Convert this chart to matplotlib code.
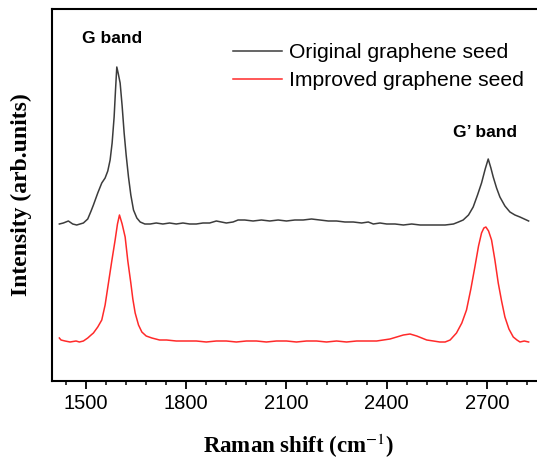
import matplotlib
matplotlib.use("Agg")
import matplotlib.pyplot as plt
from matplotlib.ticker import MultipleLocator

# Raman spectra (arb. units)
orig_x = [1420, 1432, 1447, 1460, 1472, 1482, 1492, 1505, 1515, 1522, 1535, 1547, 1557, 1565,
          1572, 1578, 1584, 1588, 1592, 1596, 1602, 1608, 1614, 1620, 1627, 1634, 1642, 1652,
          1662, 1676, 1692, 1710, 1730, 1750, 1770, 1790, 1810, 1830, 1850, 1870, 1890, 1905,
          1920, 1940, 1955, 1975, 2000, 2025, 2050, 2075, 2100, 2125, 2150, 2175, 2200, 2225,
          2250, 2275, 2300, 2325, 2345, 2360, 2380, 2400, 2425, 2450, 2475, 2500, 2525, 2550,
          2575, 2600, 2615, 2629, 2645, 2659, 2672, 2684, 2695, 2704, 2712, 2719, 2729, 2739,
          2754, 2769, 2784, 2799, 2812, 2825]
orig_y = [157, 158, 160, 157, 156, 157, 158, 162, 170, 176, 188, 198, 203, 210,
          221, 238, 264, 290, 314, 308, 298, 275, 248, 226, 204, 186, 171, 163,
          159, 157, 157, 158, 157, 158, 157, 158, 157, 157, 158, 158, 160, 159,
          158, 159, 161, 161, 160, 161, 160, 161, 160, 161, 161, 162, 161, 160,
          160, 159, 159, 158, 159, 157, 158, 157, 157, 156, 157, 156, 156, 156,
          156, 157, 159, 161, 166, 174, 186, 198, 212, 222, 213, 204, 193, 184,
          175, 169, 166, 164, 162, 160]

impr_x = [1420, 1425, 1437, 1452, 1470, 1480, 1492, 1505, 1515, 1522, 1535, 1547, 1557, 1567,
          1577, 1587, 1594, 1600, 1608, 1617, 1625, 1634, 1640, 1647, 1657, 1667, 1680, 1697,
          1720, 1741, 1770, 1800, 1830, 1860, 1890, 1920, 1950, 1980, 2010, 2040, 2070, 2100,
          2130, 2160, 2190, 2220, 2250, 2280, 2310, 2340, 2370, 2390, 2410, 2430, 2450, 2470,
          2490, 2505, 2520, 2540, 2559, 2575, 2590, 2609, 2625, 2639, 2652, 2664, 2675, 2684,
          2691, 2697, 2705, 2714, 2724, 2734, 2744, 2754, 2766, 2779, 2790, 2799, 2812, 2825]
impr_y = [43, 41, 40, 39, 40, 39, 40, 43, 46, 48, 54, 61, 76, 98,
          120, 141, 157, 166, 157, 144, 120, 98, 82, 68, 56, 49, 45, 43,
          41, 41, 40, 40, 40, 39, 40, 40, 39, 40, 40, 39, 40, 40,
          39, 40, 40, 39, 40, 39, 40, 40, 40, 41, 42, 44, 46, 47,
          45, 43, 41, 40, 39, 39, 41, 48, 58, 71, 92, 114, 135, 148,
          153, 154, 150, 141, 121, 98, 80, 64, 52, 44, 41, 39, 40, 39]

major_ticks = [1500, 1800, 2100, 2400, 2700]

sans = "Liberation Sans"
serif = "Liberation Serif"
plt.rcParams["mathtext.fontset"] = "stix"

fig = plt.figure(figsize=(5.37, 4.59), dpi=100)
ax = fig.add_axes([52 / 537, 78 / 459, 494 / 537, 372 / 459])

ax.plot(orig_x, orig_y, color="#3c3c3c", lw=1.1, label="Original graphene seed")
ax.plot(impr_x, impr_y, color="#ff2a2a", lw=1.1, label="Improved graphene seed")

ax.set_xlim(1398, 2877)
ax.set_ylim(0, 372)
ax.set_xticks(major_ticks)
ax.xaxis.set_minor_locator(MultipleLocator(60))
ax.set_yticks([])
ax.tick_params(axis="x", which="major", direction="out", length=5.5, width=1.3, pad=4,
               labelsize=14.5)
ax.tick_params(axis="x", which="minor", direction="out", length=3, width=1.1)
for lab in ax.get_xticklabels():
    lab.set_fontfamily(sans)
for sp in ax.spines.values():
    sp.set_linewidth(1.5)
ax.spines["right"].set_visible(False)

ax.set_xlabel(r"Raman shift (cm$^{\mathrm{-1}}$)", fontsize=16.5, fontweight="bold",
              fontfamily=serif)
ax.xaxis.set_label_coords(0.5, -0.137)
ax.set_ylabel("Intensity (arb.units)", fontsize=17, fontweight="bold", fontfamily=serif)
ax.yaxis.set_label_coords(-0.04, 0.5)

ax.text(1578, 342, "G band", ha="center", va="center", fontsize=12.5, fontweight="bold",
        fontfamily=sans)
ax.text(2694, 248, "G\u2019 band", ha="center", va="center", fontsize=12.5,
        fontweight="bold", fontfamily=sans)

leg = ax.legend(loc="upper left", bbox_to_anchor=(0.35, 0.93), frameon=False,
                prop={"family": sans, "size": 15.2}, handlelength=2.3, handletextpad=0.35,
                labelspacing=0.42, borderaxespad=0)

fig.savefig("out.png", dpi=100)
